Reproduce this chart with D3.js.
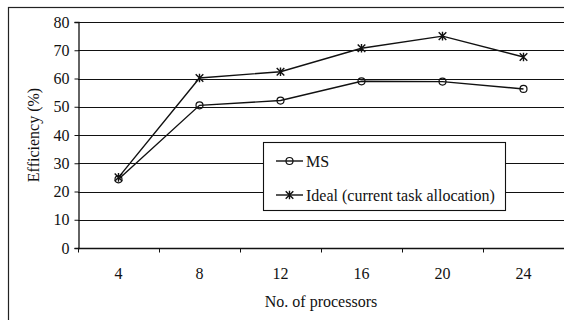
<!DOCTYPE html>
<html>
<head>
<meta charset="utf-8">
<script src="https://cdn.jsdelivr.net/npm/d3@7"></script>
<style>
  body { margin: 0; background: #fff; }
  svg { display: block; }
</style>
</head>
<body>
<div id="chart"></div>
<script>
// chart data
var processors = [4, 8, 12, 16, 20, 24];
var msValues = [24.3, 50.5, 52.2, 59.0, 58.9, 56.3];
var idealValues = [25.0, 60.2, 62.4, 70.7, 75.0, 67.6];
var yTicks = [0, 10, 20, 30, 40, 50, 60, 70, 80];
var seriesNames = ["MS", "Ideal (current task allocation)"];

var FONT = "Liberation Serif";
var FS = 16;
var width = 564, height = 320;
var margin = {left: 78, top: 22, right: 0, bottom: 72};
var plotW = width - margin.left - margin.right;
var plotH = height - margin.top - margin.bottom;

var svg = d3.select("#chart").append("svg")
    .attr("width", width).attr("height", height)
    .attr("font-family", FONT);

// outer frame (only left/top visible, chart is cropped)
svg.append("rect")
    .attr("x", 8.5).attr("y", 7.5)
    .attr("width", width + 10).attr("height", height + 10)
    .attr("fill", "none").attr("stroke", "#222").attr("stroke-width", 1.2);

var g = svg.append("g").attr("transform", "translate(" + margin.left + "," + margin.top + ")");

var xScale = d3.scaleBand().domain(processors).range([0, plotW]);
var yScale = d3.scaleLinear().domain([0, 80]).range([plotH, 0]);

// gridlines
g.selectAll(".grid").data(yTicks.filter(function(d){ return d > 0; }))
    .enter().append("line")
    .attr("x1", 0).attr("x2", plotW)
    .attr("y1", function(d){ return Math.round(yScale(d)) + 0.5; })
    .attr("y2", function(d){ return Math.round(yScale(d)) + 0.5; })
    .attr("stroke", "#111").attr("stroke-width", 1.1);

// y axis
var yAxis = d3.axisLeft(yScale).tickValues(yTicks).tickSize(4).tickPadding(5);
var yg = g.append("g").attr("transform", "translate(0.5,0)").call(yAxis)
    .attr("font-family", FONT).attr("font-size", FS);
yg.select(".domain").attr("stroke", "#111").attr("stroke-width", 1.3);
yg.selectAll(".tick line").attr("stroke", "#111");
yg.selectAll("text").attr("fill", "#111");

// x axis: ticks at band boundaries
var xg = g.append("g").attr("transform", "translate(0," + (Math.round(plotH) + 0.5) + ")");
xg.append("line").attr("x1", 0).attr("x2", plotW).attr("stroke", "#111").attr("stroke-width", 1.3);
var bounds = processors.map(function(d){ return xScale(d); });
xg.selectAll(".xt").data(bounds).enter().append("line")
    .attr("x1", function(d){ return Math.round(d) + 0.5; })
    .attr("x2", function(d){ return Math.round(d) + 0.5; })
    .attr("y1", 0).attr("y2", 4).attr("stroke", "#111");
xg.selectAll(".xl").data(processors).enter().append("text")
    .attr("x", function(d){ return xScale(d) + xScale.bandwidth() / 2; })
    .attr("y", 30)
    .attr("text-anchor", "middle").attr("font-size", FS).attr("fill", "#111")
    .text(function(d){ return d; });

// axis titles
svg.append("text")
    .attr("x", 321).attr("y", 307)
    .attr("text-anchor", "middle").attr("font-size", FS).attr("fill", "#111")
    .text("No. of processors");
svg.append("text")
    .attr("transform", "translate(39," + (margin.top + plotH / 2) + ") rotate(-90)")
    .attr("text-anchor", "middle").attr("font-size", FS).attr("fill", "#111")
    .text("Efficiency (%)");

var cx = function(d, i){ return xScale(processors[i]) + xScale.bandwidth() / 2; };
var line = d3.line().x(cx).y(function(d){ return yScale(d); });

function drawCircle(sel, x, y){
    sel.append("circle").attr("cx", x).attr("cy", y).attr("r", 3.5)
        .attr("fill", "none").attr("stroke", "#111").attr("stroke-width", 1.2);
}
function drawStar(sel, x, y){
    var s = 3.8;
    var p = "M" + (x - s) + "," + (y - s) + "L" + (x + s) + "," + (y + s) +
        "M" + (x - s) + "," + (y + s) + "L" + (x + s) + "," + (y - s) +
        "M" + x + "," + (y - s - 0.5) + "L" + x + "," + (y + s + 0.5);
    sel.append("path").attr("d", p).attr("stroke", "#111").attr("stroke-width", 1.4).attr("fill", "none");
}

// series
var series = [
    {values: msValues, marker: drawCircle},
    {values: idealValues, marker: drawStar}
];
series.forEach(function(s){
    g.append("path").datum(s.values).attr("d", line)
        .attr("fill", "none").attr("stroke", "#111").attr("stroke-width", 1.4);
    s.values.forEach(function(v, i){
        s.marker(g, cx(v, i), yScale(v));
    });
});

// legend
var lg = svg.append("g");
lg.append("rect").attr("x", 263.5).attr("y", 142.5).attr("width", 242).attr("height", 68)
    .attr("fill", "#fff").attr("stroke", "#111").attr("stroke-width", 1.1);
var legendRows = [161, 195];
series.forEach(function(s, i){
    var y = legendRows[i];
    lg.append("line").attr("x1", 276).attr("x2", 303).attr("y1", y).attr("y2", y)
        .attr("stroke", "#111").attr("stroke-width", 1.4);
    s.marker(lg, 289.5, y);
    lg.append("text").attr("x", 306).attr("y", y + 5.5)
        .attr("font-size", FS).attr("fill", "#111").text(seriesNames[i]);
});
</script>
</body>
</html>
